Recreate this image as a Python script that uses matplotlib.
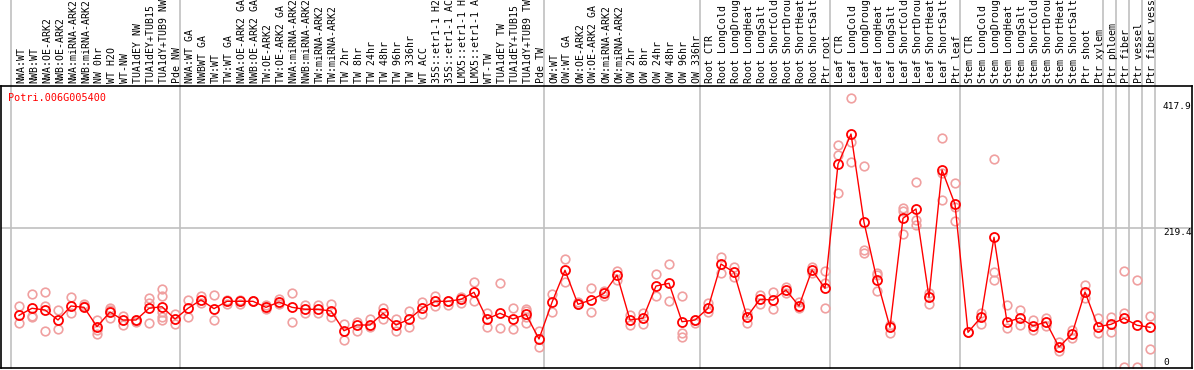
"""
Expression profile chart for Potri.006G005400
"""

import matplotlib
matplotlib.use("Agg")
import matplotlib.pyplot as plt
from matplotlib.transforms import blended_transform_factory

# ─────────────────────────────────────────
# Data
# ─────────────────────────────────────────

gene_id = "Potri.006G005400"

sample_labels = [
    "NWA:WT", "NWB:WT", "NWA:OE-ARK2", "NWB:OE-ARK2", "NWA:miRNA-ARK2",
    "NWB:miRNA-ARK2", "NW 0hr", "WT H2O", "WT-NW", "TUA1dEY NW",
    "TUA1dEY+TUB15 NW", "TUA1dY+TUB9 NW", "Pde NW",
    "NWA:WT GA", "NWBWT GA", "TW:WT", "TW:WT GA", "NWA:OE-ARK2 GA",
    "NWB:OE-ARK2 GA", "TW:OE-ARK2", "TW:OE-ARK2 GA", "NWA:miRNA-ARK2 GA",
    "NWB:miRNA-ARK2 GA", "TW:miRNA-ARK2", "TW:miRNA-ARK2", "TW 2hr", "TW 8hr",
    "TW 24hr", "TW 48hr", "TW 96hr", "TW 336hr", "WT ACC",
    "35S::etr1-1 H2O", "35S::etr1-1 ACC", "LMX5::etr1-1 H2O",
    "LMX5::etr1-1 ACC", "WT-TW", "TUA1dEY TW", "TUA1dEY+TUB15 TW",
    "TUA1dY+TUB9 TW", "Pde TW",
    "OW:WT", "OW:WT GA", "OW:OE-ARK2", "OW:OE-ARK2 GA", "OW:miRNA-ARK2",
    "OW:miRNA-ARK2", "OW 2hr", "OW 8hr", "OW 24hr", "OW 48hr", "OW 96hr",
    "OW 336hr",
    "Root CTR", "Root LongCold", "Root LongDrought", "Root LongHeat",
    "Root LongSalt", "Root ShortCold", "Root ShortDrought", "Root ShortHeat",
    "Root ShortSalt", "Ptr root",
    "Leaf CTR", "Leaf LongCold", "Leaf LongDrought", "Leaf LongHeat",
    "Leaf LongSalt", "Leaf ShortCold", "Leaf ShortDrought", "Leaf ShortHeat",
    "Leaf ShortSalt", "Ptr leaf",
    "Stem CTR", "Stem LongCold", "Stem LongDrought", "Stem LongHeat",
    "Stem LongSalt", "Stem ShortCold", "Stem ShortDrought", "Stem ShortHeat",
    "Stem ShortSalt", "Ptr shoot", "Ptr xylem",
    "Ptr phloem", "Ptr fiber", "Ptr vessel", "Ptr fiber vessel",
]

# last sample index of each group (separator drawn after it)
group_ends = [-1, 12, 40, 52, 62, 72, 83, 84, 85, 86, 87]

mean_values = [
    81.5, 92.6, 89.9, 74.1, 96.2, 94.1, 63.6, 86.7, 74.1, 74.1,
    92.6, 95.1, 75.7, 92.6, 105.7, 92.0, 103.6, 103.6, 103.6, 94.1,
    102.5, 94.1, 91.0, 91.0, 88.3, 57.2, 66.2, 66.2, 84.7, 66.2,
    75.2, 92.6, 103.6, 103.6, 106.8, 117.8, 75.7, 84.7, 75.7, 83.1,
    44.2, 102.0, 152.5, 98.9, 105.7, 116.2, 145.1, 74.1, 76.8, 127.7,
    132.0, 71.4, 74.1, 92.6, 162.4, 149.3, 79.3, 106.8, 105.7, 121.4,
    96.2, 153.0, 124.1, 319.7, 367.4, 228.2, 137.2, 62.6, 234.5, 249.2,
    109.9, 310.7, 256.6, 54.7, 78.4, 204.5, 71.0, 77.3, 64.7, 71.0,
    31.5, 52.0, 118.3, 63.6, 67.3, 76.8, 65.8, 62.6,
]

replicates = [
    [95.7, 68.9], [114.6, 80.4, 78.4], [117.8, 96.2, 56.8], [89.9, 59.9],
    [110.4, 84.7], [99.4, 96.7], [74.1, 58.3, 52.0], [93.5, 89.9, 76.8],
    [80.4, 66.2], [74.1, 71.4], [108.3, 101.4, 68.9],
    [123.0, 112.4, 87.2, 79.3, 74.1], [83.1, 67.3], [105.7, 79.3],
    [112.0, 101.4], [113.5, 74.1], [105.7, 99.4], [105.7, 99.4],
    [103.6, 103.6], [97.8, 91.0], [107.2, 99.4], [116.2, 71.0],
    [97.3, 84.7], [97.3, 84.7], [99.4, 78.4], [67.8, 42.6], [71.4, 56.8],
    [76.2, 62.6], [92.6, 75.7], [75.7, 57.2], [88.3, 62.6], [103.0, 83.1],
    [112.4, 96.7], [97.8, 103.6], [110.9, 100.5], [133.6, 104.1],
    [85.6, 62.6], [132.0, 61.0], [92.6, 59.5], [91.5, 88.3, 78.4, 69.9],
    [56.8, 32.0], [115.1, 87.2], [170.3, 134.5], [103.0, 98.9],
    [124.1, 86.3], [120.3, 112.0], [151.9, 137.2], [82.0, 66.2],
    [85.6, 67.8], [146.7, 112.0], [162.4, 104.1], [112.0, 53.1, 47.8],
    [74.1, 68.9], [100.5, 87.2], [173.9, 147.8], [157.2, 142.4],
    [84.7, 69.9], [113.5, 99.4], [118.7, 91.0], [125.7, 116.2],
    [103.0, 92.6], [158.2, 147.8], [151.4, 132.0, 92.6],
    [350.1, 334.3, 273.9], [423.7, 355.3, 322.8], [317.0, 184.5, 180.3],
    [148.7, 145.1, 119.9], [66.2, 54.1], [251.2, 246.5, 209.3],
    [291.3, 231.8, 223.9], [116.2, 99.4], [360.7, 306.4, 263.4],
    [290.6, 252.8, 230.2], [55.7], [84.7, 67.3], [327.4, 149.3, 137.2],
    [97.8, 61.5], [89.9, 66.2], [74.1, 58.3], [77.3, 64.7], [39.4, 25.2],
    [58.3, 45.7], [129.3, 108.8], [77.3, 53.1], [78.4, 54.7],
    [151.9, 84.7, 0.0], [137.2, 0.0], [80.0, 28.4],
]

y_ticks = [0, 219.4, 417.9]
y_tick_labels = ["0", "219.4", "417.9"]

# ─────────────────────────────────────────
# Figure
# ─────────────────────────────────────────

W, H = 1194, 370
MONO = "DejaVu Sans Mono"
GRID = "#c0c0c0"
RED = "#ff0000"
PINK = "#f0a0a0"

fig = plt.figure(figsize=(W / 100, H / 100), dpi=100)
ax = fig.add_axes([1 / W, (H - 368) / H, 1191 / W, (368 - 86) / H])

# pixel 19 -> sample 0, 13 px per sample; value 0 at px 367, 417.9 at px 102
px_per_unit = 265 / 417.9
ax.set_xlim((1 - 19) / 13, (1192 - 19) / 13)
ax.set_ylim(-1 / px_per_unit, (367 - 86) / px_per_unit)
ax.set_xticks([]); ax.set_yticks([])
for s in ax.spines.values():
    s.set_color("black"); s.set_linewidth(1.2)

x = list(range(len(mean_values)))

# group separators run up through the header
for g in group_ends:
    ax.axvline(g + 0.38, ymin=0, ymax=368 / 282, color=GRID, lw=1.2,
               clip_on=False, zorder=0)
ax.axhline(219.4, color=GRID, lw=1.2, zorder=0)

# replicate points
for i, reps in enumerate(replicates):
    ax.plot([i] * len(reps), reps, ls="none", marker="o", ms=6.2,
            mfc="none", mec=PINK, mew=1.2, zorder=2, clip_on=True)

# mean profile
ax.plot(x, mean_values, color=RED, lw=1.0, marker="o", ms=6.5,
        mfc="none", mec=RED, mew=1.3, zorder=3)

# header labels
hdr = blended_transform_factory(ax.transData, fig.transFigure)
for i, lab in enumerate(sample_labels):
    ax.text(i + 0.15, (H - 83) / H, lab, transform=hdr, rotation=90,
            ha="center", va="bottom", family=MONO, fontsize=7.1,
            color="black", clip_on=False)

# right-hand value labels
for v, t in zip(y_ticks, y_tick_labels):
    ax.text((1163 - 19) / 13, v, t, ha="left",
            va="bottom" if v == 0 else "top", family=MONO, fontsize=6.8,
            color="black")

ax.text(0.006, 0.975, gene_id, transform=ax.transAxes, ha="left", va="top",
        family=MONO, fontsize=7.3, color=RED)

fig.savefig("out.png", dpi=100)
